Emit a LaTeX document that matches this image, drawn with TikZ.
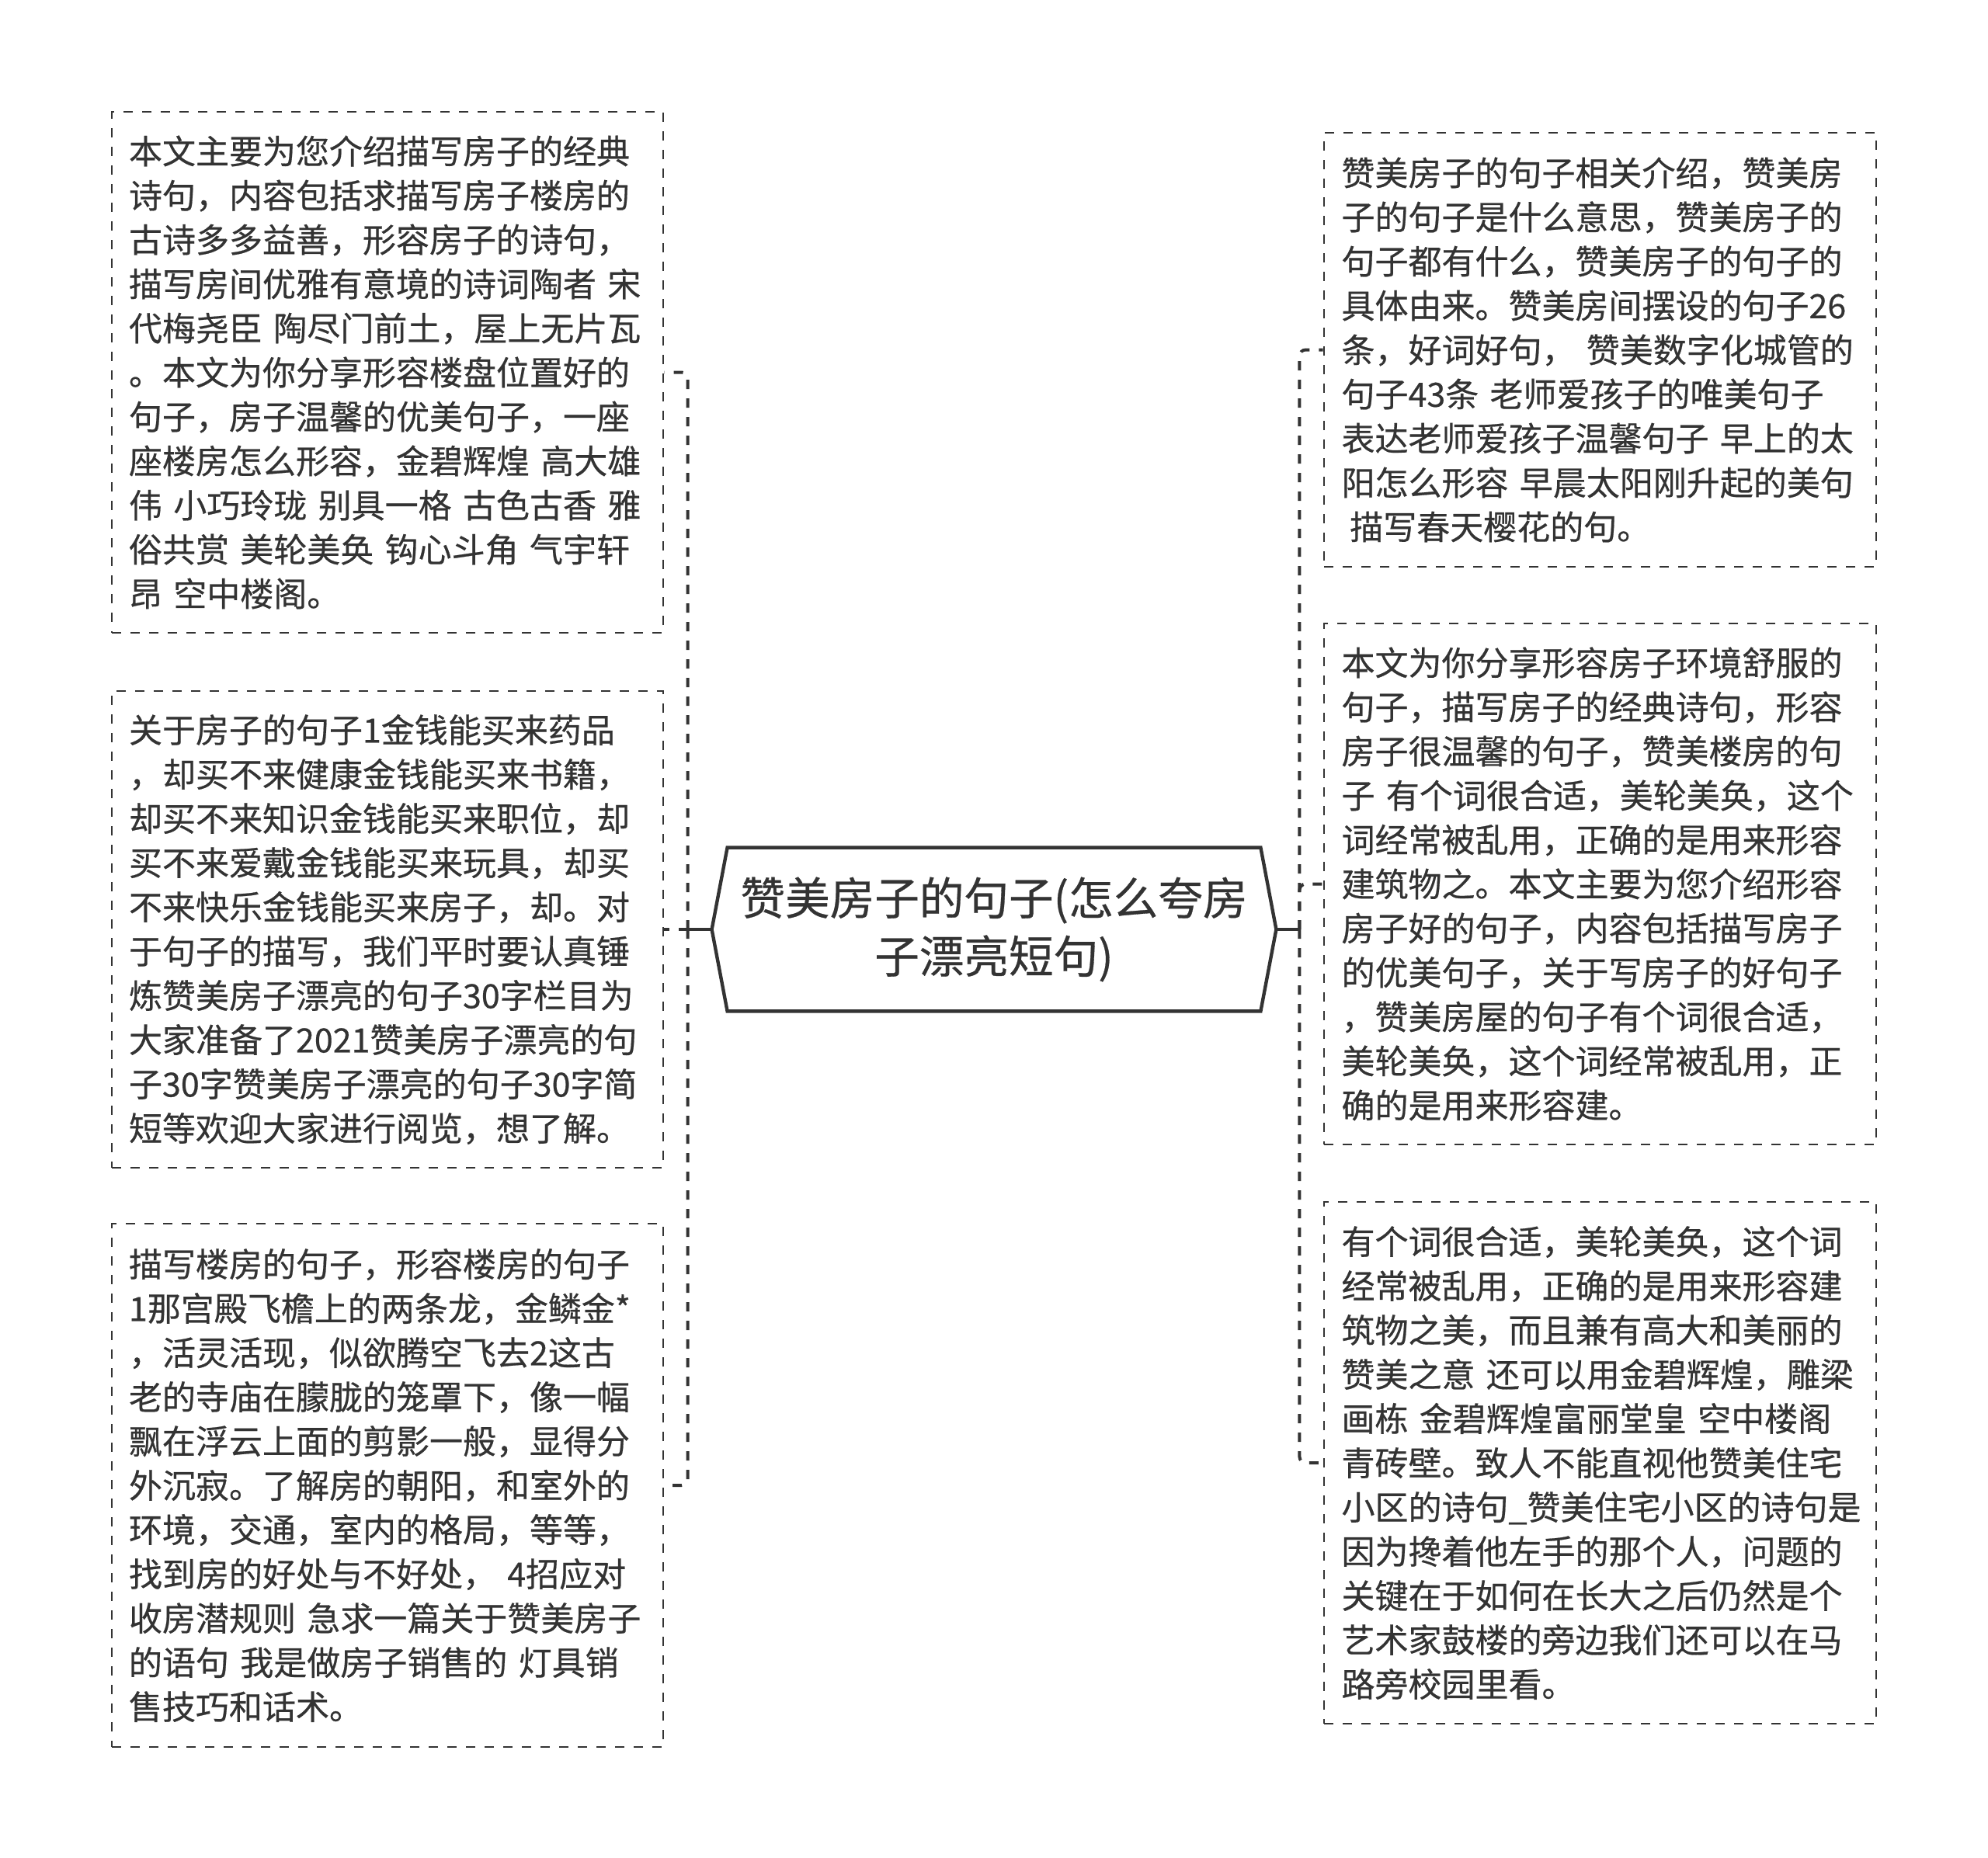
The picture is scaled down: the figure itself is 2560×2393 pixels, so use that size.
\documentclass[tikz,border=0pt]{standalone}
\usepackage{fontspec}
\newfontfamily\cjk[RawFeature={embolden=0.5}]{Noto Sans CJK SC}
\setlength{\parindent}{0pt}
\definecolor{ink}{HTML}{333333}
\begin{document}
\begin{tikzpicture}[x=0.5pt,y=-0.5pt,
  leaf/.style={draw=ink, line width=1.3pt, dash pattern=on 6pt off 6pt, text=ink,
    font=\cjk\fontsize{21.5pt}{28.5pt}\selectfont, align=left, text width=333pt,
    inner xsep=11pt, inner ysep=0pt},
  root/.style={text=ink, font=\cjk\fontsize{28.8pt}{37.5pt}\selectfont, align=center,
    minimum width=363pt, minimum height=105pt, inner sep=0pt},
  hexline/.style={draw=ink, line width=2.2pt, line join=miter},
  conn/.style={draw=ink, line width=2pt, dash pattern=on 6pt off 6pt, rounded corners=4pt},
  trunk/.style={draw=ink, line width=2pt}]
\useasboundingbox (0,0) rectangle (2560,2393);

% central topic
\node[root] (root) at (1280,1197) {赞美房子的句子(怎么夸房\\子漂亮短句)};
\draw[hexline] (root.west) -- ([xshift=10pt]root.north west) -- ([xshift=-10pt]root.north east)
  -- (root.east) -- ([xshift=-10pt]root.south east) -- ([xshift=10pt]root.south west) -- cycle;

% left boxes
\node[leaf, minimum width=355pt, minimum height=335.5pt] (L1) at (499,479.5) {本文主要为您介绍描写房子的经典\\诗句，内容包括求描写房子楼房的\\古诗多多益善，形容房子的诗句，\\描写房间优雅有意境的诗词陶者 宋\\代梅尧臣 陶尽门前土，屋上无片瓦\\。本文为你分享形容楼盘位置好的\\句子，房子温馨的优美句子，一座\\座楼房怎么形容，金碧辉煌 高大雄\\伟 小巧玲珑 别具一格 古色古香 雅\\俗共赏 美轮美奂 钩心斗角 气宇轩\\昂 空中楼阁。};
\node[leaf, minimum width=355pt, minimum height=307pt] (L2) at (499,1197) {关于房子的句子1金钱能买来药品\\，却买不来健康金钱能买来书籍，\\却买不来知识金钱能买来职位，却\\买不来爱戴金钱能买来玩具，却买\\不来快乐金钱能买来房子，却。对\\于句子的描写，我们平时要认真锤\\炼赞美房子漂亮的句子30字栏目为\\大家准备了2021赞美房子漂亮的句\\子30字赞美房子漂亮的句子30字简\\短等欢迎大家进行阅览，想了解。};
\node[leaf, minimum width=355pt, minimum height=337pt] (L3) at (499,1913) {描写楼房的句子，形容楼房的句子\\1那宫殿飞檐上的两条龙，金鳞金*\\，活灵活现，似欲腾空飞去2这古\\老的寺庙在朦胧的笼罩下，像一幅\\飘在浮云上面的剪影一般，显得分\\外沉寂。了解房的朝阳，和室外的\\环境，交通，室内的格局，等等，\\找到房的好处与不好处， 4招应对\\收房潜规则 急求一篇关于赞美房子\\的语句 我是做房子销售的 灯具销\\售技巧和话术。};

% right boxes
\node[leaf, minimum width=355.5pt, minimum height=279.5pt] (R1) at (2060.5,450.5) {赞美房子的句子相关介绍，赞美房\\子的句子是什么意思，赞美房子的\\句子都有什么，赞美房子的句子的\\具体由来。赞美房间摆设的句子26\\条，好词好句， 赞美数字化城管的\\句子43条 老师爱孩子的唯美句子\\表达老师爱孩子温馨句子 早上的太\\阳怎么形容 早晨太阳刚升起的美句\\\hspace*{0.25em}描写春天樱花的句。};
\node[leaf, minimum width=355.5pt, minimum height=335.5pt] (R2) at (2060.5,1138.5) {本文为你分享形容房子环境舒服的\\句子，描写房子的经典诗句，形容\\房子很温馨的句子，赞美楼房的句\\子 有个词很合适，美轮美奂，这个\\词经常被乱用，正确的是用来形容\\建筑物之。本文主要为您介绍形容\\房子好的句子，内容包括描写房子\\的优美句子，关于写房子的好句子\\，赞美房屋的句子有个词很合适，\\美轮美奂，这个词经常被乱用，正\\确的是用来形容建。};
\node[leaf, minimum width=355.5pt, minimum height=336pt] (R3) at (2060.5,1884) {有个词很合适，美轮美奂，这个词\\经常被乱用，正确的是用来形容建\\筑物之美，而且兼有高大和美丽的\\赞美之意 还可以用金碧辉煌，雕梁\\画栋 金碧辉煌富丽堂皇 空中楼阁\\青砖壁。致人不能直视他赞美住宅\\小区的诗句\_赞美住宅小区的诗句是\\因为搀着他左手的那个人，问题的\\关键在于如何在长大之后仍然是个\\艺术家鼓楼的旁边我们还可以在马\\路旁校园里看。};

% connectors
\draw[trunk] (root.west) -- ++(-31,0) coordinate (lj);
\draw[trunk] (root.east) -- ++(30,0) coordinate (rj);
\draw[conn] (lj) |- (L1.east);
\draw[conn] (lj) -- (L2.east);
\draw[conn] (lj) |- (L3.east);
\draw[conn] (rj) |- (R1.west);
\draw[conn] (rj) |- (R2.west);
\draw[conn] (rj) |- (R3.west);
\end{tikzpicture}
\end{document}
